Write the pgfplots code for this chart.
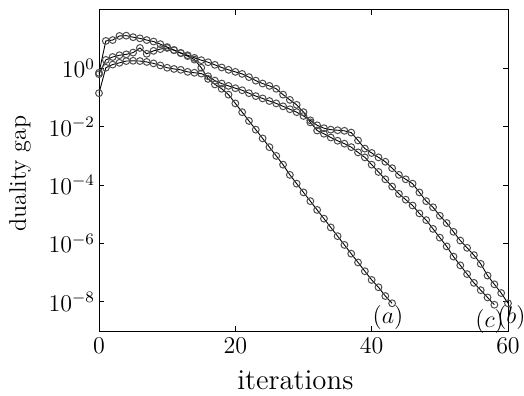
\documentclass[border=0pt]{standalone}
\usepackage{pgfplots}
\pgfplotsset{compat=1.18}
\begin{document}
\begin{tikzpicture}
\begin{axis}[
  name=ax,
  scale only axis,
  width=204.5pt, height=160.5pt,
  xmin=0, xmax=60,
  ymode=log, ymin=1e-9, ymax=1e2,
  xtick={0,20,40,60},
  ytick={1e-8,1e-6,1e-4,1e-2,1e0},
  minor ytick={},
  tick align=inside,
  xtick pos=both, ytick pos=both,
  major tick length=2.5pt,
  axis line style={line width=0.5pt},
  tick style={line width=0.5pt, black},
  xlabel={iterations}, ylabel={duality gap},
  every axis x label/.style={at={(axis description cs:0.48,-0.153)}, anchor=center, font=\Large},
  every axis y label/.style={at={(axis description cs:-0.193,0.49)}, rotate=90, anchor=center, font=\large},
  tick label style={font=\large},
  yticklabel style={xshift=1.5pt},
  clip=false,
]
% (c)
\addplot[black, line width=0.45pt, mark=o, mark size=1.7pt, mark options={draw=black!70, line width=0.5pt}] coordinates {
(0,0.708)(1,8.71)(2,9.33)(3,12.9)(4,13.2)(5,11.7)(6,10.7)(7,9.33)(8,8.32)(9,6.76)
(10,5.37)(11,4.27)(12,3.39)(13,2.82)(14,2.29)(15,1.91)(16,1.62)(17,1.32)(18,1.07)(19,0.891)
(20,0.759)(21,0.646)(22,0.501)(23,0.380)(24,0.302)(25,0.251)(26,0.200)(27,0.126)(28,8.32e-2)(29,5.62e-2)
(30,3.16e-2)(31,1.41e-2)(32,7.41e-3)(33,5.75e-3)(34,4.27e-3)(35,3.31e-3)(36,2.63e-3)(37,2.0e-3)(38,1.32e-3)(39,8.91e-4)
(40,5.01e-4)(41,2.82e-4)(42,1.58e-4)(43,8.91e-5)(44,5.01e-5)(45,3.16e-5)(46,2.0e-5)(47,1.07e-5)(48,6.31e-6)(49,3.16e-6)
(50,1.58e-6)(51,7.94e-7)(52,3.55e-7)(53,1.78e-7)(54,8.91e-8)(55,4.47e-8)(56,2.51e-8)(57,1.41e-8)(58,7.94e-9)
};
% (b)
\addplot[black, line width=0.45pt, mark=o, mark size=1.7pt, mark options={draw=black!70, line width=0.5pt}] coordinates {
(0,0.141)(1,1.05)(2,1.35)(3,1.55)(4,1.78)(5,1.82)(6,1.78)(7,1.66)(8,1.48)(9,1.26)
(10,1.05)(11,0.955)(12,0.891)(13,0.759)(14,0.708)(15,0.661)(16,0.537)(17,0.380)(18,0.302)(19,0.251)
(20,0.209)(21,0.178)(22,0.141)(23,0.112)(24,9.33e-2)(25,7.59e-2)(26,6.31e-2)(27,5.01e-2)(28,3.98e-2)(29,3.16e-2)
(30,2.34e-2)(31,1.66e-2)(32,1.12e-2)(33,8.91e-3)(34,7.94e-3)(35,7.59e-3)(36,7.24e-3)(37,6.31e-3)(38,3.39e-3)(39,1.78e-3)
(40,1.26e-3)(41,8.91e-4)(42,6.31e-4)(43,3.80e-4)(44,2.24e-4)(45,1.58e-4)(46,1.12e-4)(47,5.62e-5)(48,2.82e-5)(49,1.74e-5)
(50,8.91e-6)(51,5.01e-6)(52,2.51e-6)(53,1.26e-6)(54,7.08e-7)(55,3.98e-7)(56,2.0e-7)(57,7.94e-8)(58,3.98e-8)(59,2.0e-8)
(60,8.91e-9)
};
% (a)
\addplot[black, line width=0.45pt, mark=o, mark size=1.7pt, mark options={draw=black!70, line width=0.5pt}] coordinates {
(0,0.631)(1,1.95)(2,2.45)(3,2.82)(4,3.02)(5,3.47)(6,5.01)(7,3.16)(8,3.98)(9,4.57)
(10,5.01)(11,4.17)(12,3.31)(13,2.63)(14,2.0)(15,1.05)(16,0.437)(17,0.282)(18,0.2)(19,0.126)
(20,6.31e-2)(21,3.16e-2)(22,1.58e-2)(23,7.94e-3)(24,3.98e-3)(25,2.0e-3)(26,1.0e-3)(27,5.01e-4)(28,2.24e-4)(29,1.12e-4)
(30,5.62e-5)(31,2.82e-5)(32,1.41e-5)(33,7.08e-6)(34,3.55e-6)(35,1.78e-6)(36,8.91e-7)(37,4.47e-7)(38,2.24e-7)(39,1.12e-7)
(40,5.62e-8)(41,3.16e-8)(42,1.58e-8)(43,8.91e-9)
};
\node[font=\large] at (axis cs:42.4,2.8e-9) {$(a)$};
\node[font=\large] at (axis cs:57.3,2.2e-9) {$(c)$};
\node[font=\large, inner sep=0pt] at (axis cs:60.5,2.8e-9) {$(b)$};
\end{axis}
\pgfresetboundingbox
\path[use as bounding box] ([xshift=-49.5pt,yshift=-32pt]ax.south west) rectangle ([xshift=8pt,yshift=5pt]ax.north east);
\end{tikzpicture}
\end{document}
